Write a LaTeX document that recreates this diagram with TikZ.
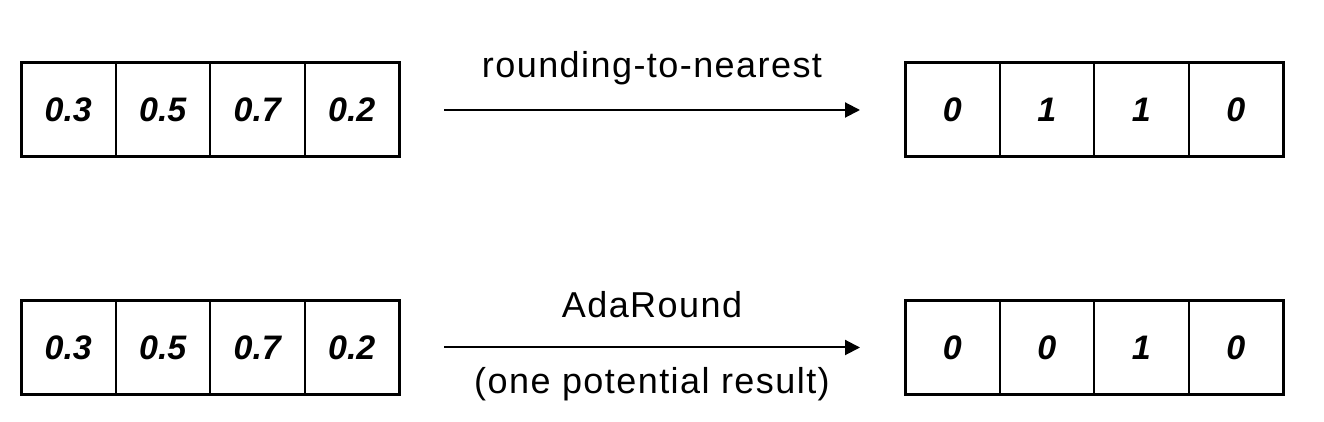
\documentclass[tikz,border=0pt]{standalone}
\usepackage{fontspec}
\setmainfont{Liberation Sans}
\newfontfamily\lblfont[LetterSpace=4]{Liberation Sans}
\usepackage{tikz}
\usetikzlibrary{calc,positioning,arrows.meta}

\tikzset{
	cell/.style={draw, line width=2pt, minimum width=94.5pt, minimum height=94pt,
		inner sep=0pt, outer sep=0pt, font=\fontsize{34}{40}\selectfont\bfseries\itshape},
	frame/.style={line width=3pt},
	roundarrow/.style={line width=2pt, -{Triangle[length=15pt,width=15pt]},
		shorten <=45pt, shorten >=45pt},
	lbl/.style={inner sep=0pt, anchor=base, font=\fontsize{36}{42}\lblfont}
}

\begin{document}
\begin{tikzpicture}[x=1pt,y=1pt]
	\useasboundingbox (0,0) rectangle (1324,422);
	% input vectors
	\foreach \v [count=\i] in {0.3,0.5,0.7,0.2} {
		\node[cell] (a\i) at (21+94.5*\i-47.25,312) {\v};
		\node[cell] (c\i) at (21+94.5*\i-47.25,74.5) {\v};
	}
	% rounded results
	\foreach \v [count=\i] in {0,1,1,0}
		\node[cell] (b\i) at (905+94.5*\i-47.25,312) {\v};
	\foreach \v [count=\i] in {0,0,1,0}
		\node[cell] (d\i) at (905+94.5*\i-47.25,74.5) {\v};
	\foreach \r in {a,b,c,d}
		\draw[frame] (\r1.north west) rectangle (\r4.south east);
	% arrows
	\draw[roundarrow] (a4.east) -- (b1.west)
		node[lbl, midway, yshift=32pt] (nearest) {rounding-to-nearest};
	\draw[roundarrow] (c4.east) -- (d1.west)
		node[lbl, midway, yshift=30pt] (ada) {AdaRound}
		node[lbl, midway, yshift=-46pt] (potential) {(one potential result)};
\end{tikzpicture}
\end{document}
